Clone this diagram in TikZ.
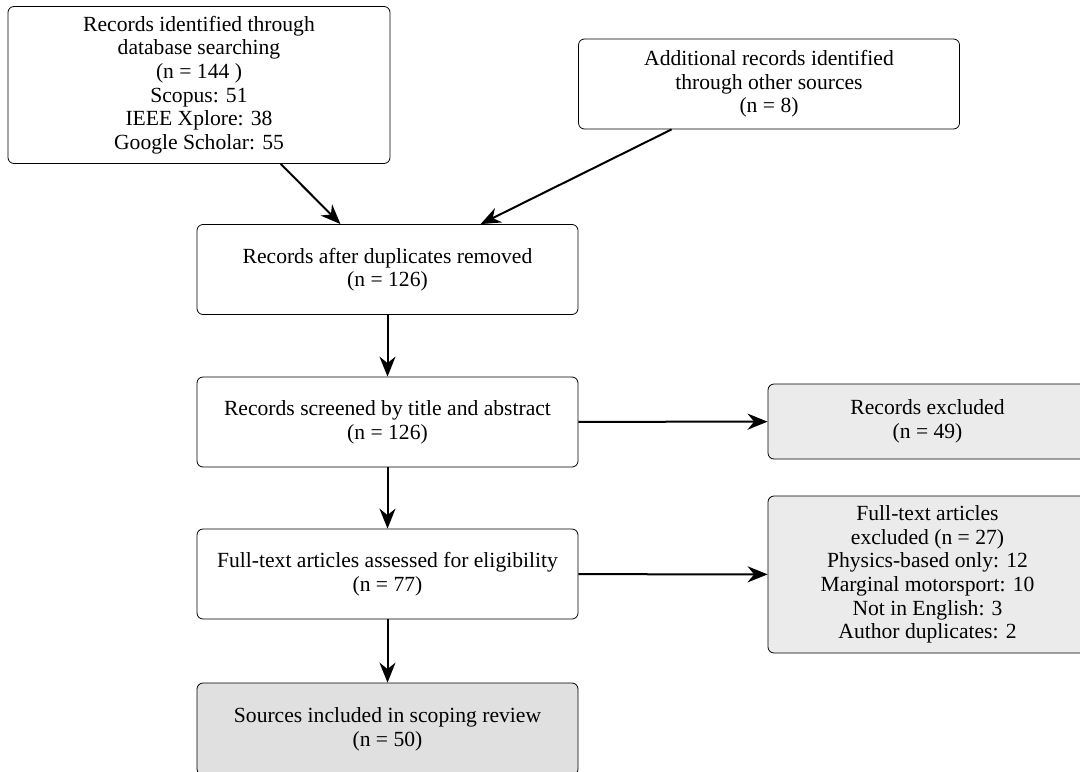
\documentclass[tikz,border=0pt]{standalone}
\usepackage{fontspec}
\setmainfont{Liberation Serif}
\usetikzlibrary{arrows.meta}

\begin{document}
\begin{tikzpicture}[x=0.5pt,y=-0.5pt]
	\tikzstyle{every node}+=[inner sep=4pt, align=center, font=\fontsize{10.8pt}{11.8pt}\selectfont]
	\tikzstyle{stage}=[draw, rounded corners=3pt, minimum width=190.5pt, minimum height=45pt]
	\tikzstyle{dropped}=[stage, fill=black!8, minimum width=159.5pt]
	\tikzstyle{flow}=[line width=1pt, -{Stealth[length=10pt,width=8pt]}]
	\useasboundingbox (0,0) rectangle (1080,771);
	% identification
	\node [stage, minimum width=191pt, minimum height=78.5pt] (db) at (199,85) {Records identified through\\database searching\\(n = 144 )\\Scopus: 51\\IEEE Xplore: 38\\Google Scholar: 55};
	\node [stage] (other) at (769,84) {Additional records identified\\through other sources\\(n = 8)};
	% screening
	\node [stage] (dup) at (387.5,269.5) {Records after duplicates removed\\(n = 126)};
	\node [stage] (screen) at (387.5,422) {Records screened by title and abstract\\(n = 126)};
	\node [dropped, minimum height=37.5pt] (excl) at (927.5,421.5) {Records excluded\\(n = 49)};
	% eligibility
	\node [stage] (full) at (387.5,574) {Full-text articles assessed for eligibility\\(n = 77)};
	\node [dropped, minimum height=78.5pt] (exclfull) at (927.5,574.5) {Full-text articles\\excluded (n = 27)\\Physics-based only: 12\\Marginal motorsport: 10\\Not in English: 3\\Author duplicates: 2};
	% included
	\node [stage, fill=black!12, minimum height=46pt] (incl) at (387.5,729) {Sources included in scoping review\\(n = 50)};
	\draw [flow] (db.-44) -- (dup.136);
	\draw [flow] (other.205.6) -- (dup.26);
	\draw [flow] (dup) -- (screen);
	\draw [flow] (screen) -- (excl);
	\draw [flow] (screen) -- (full);
	\draw [flow] (full) -- (exclfull);
	\draw [flow] (full) -- (incl);
\end{tikzpicture}
\end{document}
